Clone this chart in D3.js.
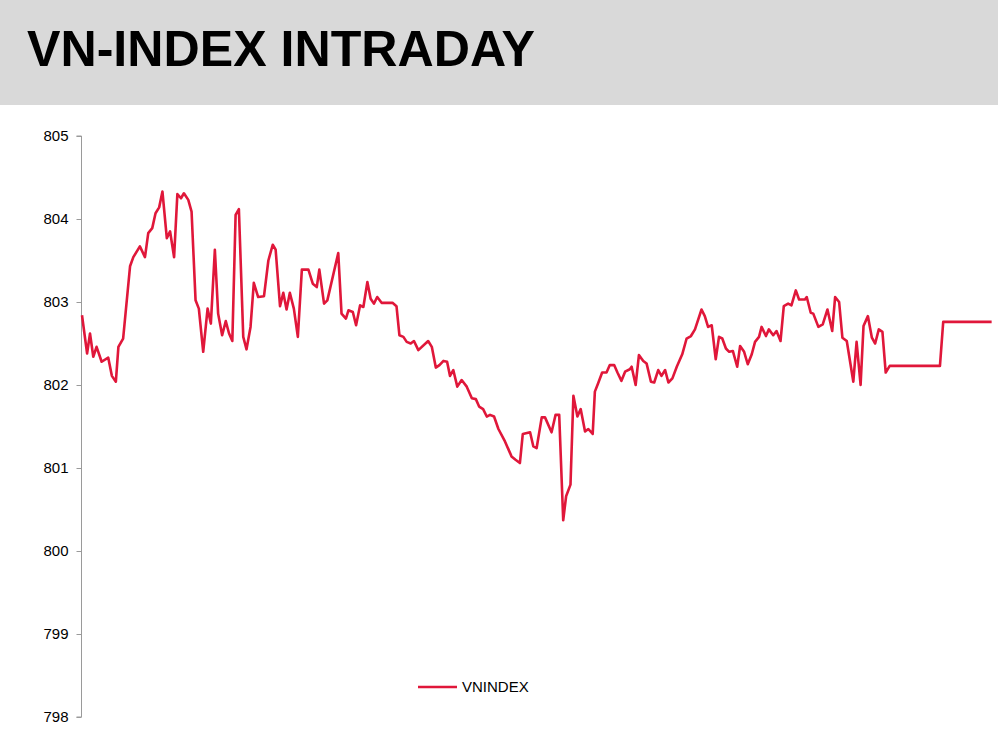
<!DOCTYPE html>
<html>
<head>
<meta charset="utf-8">
<script src="https://cdn.jsdelivr.net/npm/d3@7/dist/d3.min.js"></script>
<style>
  html, body { margin: 0; padding: 0; background: #fff; }
  svg { display: block; font-family: "Liberation Sans", Arial, sans-serif; }
</style>
</head>
<body>
<svg id="chart" width="1000" height="736"></svg>
<script>
const title = "VN-INDEX INTRADAY";
const seriesName = "VNINDEX";
const yTicks = [798, 799, 800, 801, 802, 803, 804, 805];

// intraday step (time index) of each vertex
const steps = [
  0, 1.4, 2.2, 3.1, 4.0, 5.4, 7.2, 8.2, 9.3, 10.0,
  11.3, 13.2, 14.1, 15.9, 17.3, 18.2, 19.3, 20.2, 21.2, 22.1,
  23.3, 24.2, 25.3, 26.2, 27.2, 28.0, 29.2, 30.1, 31.2, 32.1,
  33.3, 34.5, 35.4, 36.5, 37.4, 38.5, 39.5, 40.4, 41.3, 42.2,
  43.1, 44.3, 45.2, 46.3, 47.2, 48.4, 50.0, 51.2, 52.4, 53.2,
  54.4, 55.3, 56.2, 57.1, 58.2, 59.3, 60.4, 62.2, 63.4, 64.5,
  65.2, 66.5, 67.4, 70.4, 71.3, 72.5, 73.2, 74.4, 75.3, 76.4,
  77.3, 78.4, 79.3, 80.2, 81.1, 82.3, 85.3, 86.4, 87.2, 88.3,
  89.2, 90.3, 91.2, 92.4, 95.1, 96.1, 97.2, 98.2, 99.3, 100.3,
  101.1, 102.0, 103.1, 104.3, 105.7, 107.1, 108.2, 109.1, 110.2, 111.2,
  112.1, 113.2, 114.4, 116.2, 118.0, 119.1, 120.3, 121.1, 123.1, 124.0,
  124.9, 126.3, 127.2, 129.0, 130.1, 131.1, 132.2, 133.0, 134.2, 135.0,
  136.1, 137.0, 138.2, 139.1, 140.3, 140.9, 141.8, 142.9, 144.1, 145.0,
  146.2, 147.1, 148.2, 149.2, 150.5, 151.0, 152.1, 153.0, 154.2, 155.1,
  156.3, 157.2, 158.3, 159.2, 160.2, 161.1, 162.2, 163.4, 164.9, 166.1,
  167.3, 168.4, 170.2, 171.1, 172.0, 173.0, 174.1, 175.0, 175.9, 176.9,
  177.8, 178.8, 180.0, 180.8, 181.9, 182.9, 184.0, 184.9, 186.0, 186.7,
  187.9, 188.7, 189.9, 190.8, 191.9, 192.8, 194.0, 194.9, 196.1, 197.0,
  198.6, 199.1, 200.2, 200.9, 202.3, 203.5, 204.8, 206.1, 206.9, 208.0,
  208.9, 210.1, 211.9, 212.8, 213.9, 214.7, 215.9, 217.0, 217.9, 218.9,
  219.9, 220.8, 221.9, 235.7, 236.6, 249.9
];

const vnindex = [
  802.84, 802.38, 802.62, 802.34, 802.46, 802.28, 802.33, 802.11, 802.04, 802.46,
  802.56, 803.43, 803.54, 803.67, 803.54, 803.83, 803.89, 804.07, 804.14, 804.33,
  803.77, 803.85, 803.54, 804.30, 804.25, 804.31, 804.23, 804.09, 803.02, 802.92,
  802.40, 802.92, 802.74, 803.63, 802.86, 802.60, 802.77, 802.62, 802.53, 804.05,
  804.12, 802.58, 802.43, 802.70, 803.23, 803.06, 803.07, 803.50, 803.69, 803.63,
  802.95, 803.11, 802.91, 803.11, 802.92, 802.58, 803.39, 803.39, 803.22, 803.18,
  803.39, 802.98, 803.02, 803.59, 802.86, 802.80, 802.90, 802.88, 802.72, 802.96,
  802.94, 803.24, 803.04, 802.98, 803.06, 802.99, 802.99, 802.95, 802.60, 802.58,
  802.52, 802.50, 802.53, 802.42, 802.53, 802.46, 802.21, 802.24, 802.29, 802.28,
  802.11, 802.18, 801.98, 802.06, 801.98, 801.84, 801.83, 801.74, 801.71, 801.62,
  801.64, 801.62, 801.47, 801.32, 801.14, 801.10, 801.06, 801.41, 801.43, 801.26,
  801.24, 801.61, 801.61, 801.43, 801.64, 801.64, 800.37, 800.66, 800.80, 801.87,
  801.62, 801.71, 801.44, 801.47, 801.41, 801.92, 802.02, 802.15, 802.15, 802.24,
  802.24, 802.15, 802.05, 802.16, 802.19, 802.22, 802.00, 802.36, 802.29, 802.26,
  802.04, 802.03, 802.18, 802.11, 802.18, 802.03, 802.08, 802.22, 802.37, 802.56,
  802.59, 802.67, 802.91, 802.83, 802.70, 802.72, 802.31, 802.58, 802.56, 802.44,
  802.40, 802.41, 802.22, 802.47, 802.40, 802.25, 802.37, 802.52, 802.58, 802.70,
  802.59, 802.67, 802.60, 802.65, 802.53, 802.95, 802.98, 802.96, 803.14, 803.03,
  803.03, 803.06, 802.87, 802.86, 802.70, 802.73, 802.91, 802.65, 803.06, 803.00,
  802.57, 802.53, 802.04, 802.52, 802.00, 802.71, 802.83, 802.57, 802.50, 802.67,
  802.64, 802.15, 802.23, 802.23, 802.76, 802.76
];

const stepDomain = [0, 250];

const svg = d3.select("#chart");

// header band
svg.append("rect")
  .attr("x", 0).attr("y", 0)
  .attr("width", 998).attr("height", 105)
  .attr("fill", "#d9d9d9");

svg.append("text")
  .attr("x", 27).attr("y", 66)
  .attr("font-size", 50)
  .attr("font-weight", "bold")
  .attr("fill", "#000")
  .attr("textLength", 508)
  .attr("lengthAdjust", "spacingAndGlyphs")
  .text(title);

const x = d3.scaleLinear().domain(stepDomain).range([82, 992]);
const y = d3.scaleLinear().domain([798, 805]).range([717, 136]);

const yAxis = svg.append("g")
  .attr("transform", "translate(81.5,0)")
  .call(d3.axisLeft(y).tickValues(yTicks).tickSize(5).tickPadding(8).tickFormat(d3.format("d")));
yAxis.select(".domain").attr("stroke", "#9a9a9a").attr("d", `M-5,${y(805)}H0V${y(798)}H-5`);
yAxis.selectAll(".tick line").attr("stroke", "#9a9a9a");
yAxis.selectAll(".tick text")
  .attr("font-size", 15)
  .attr("font-family", "'Liberation Sans', Arial, sans-serif")
  .attr("fill", "#000");

const data = steps.map((s, i) => ({ s, v: vnindex[i] }));

svg.append("path")
  .datum(data)
  .attr("fill", "none")
  .attr("stroke", "#e0173a")
  .attr("stroke-width", 2.6)
  .attr("stroke-linejoin", "round")
  .attr("d", d3.line().x(d => x(d.s)).y(d => y(d.v)));

// legend
const lg = svg.append("g");
lg.append("line")
  .attr("x1", 418).attr("x2", 457)
  .attr("y1", 687).attr("y2", 687)
  .attr("stroke", "#e0173a").attr("stroke-width", 2.6);
lg.append("text")
  .attr("x", 462).attr("y", 692)
  .attr("font-size", 15)
  .attr("fill", "#000")
  .text(seriesName);
</script>
</body>
</html>
